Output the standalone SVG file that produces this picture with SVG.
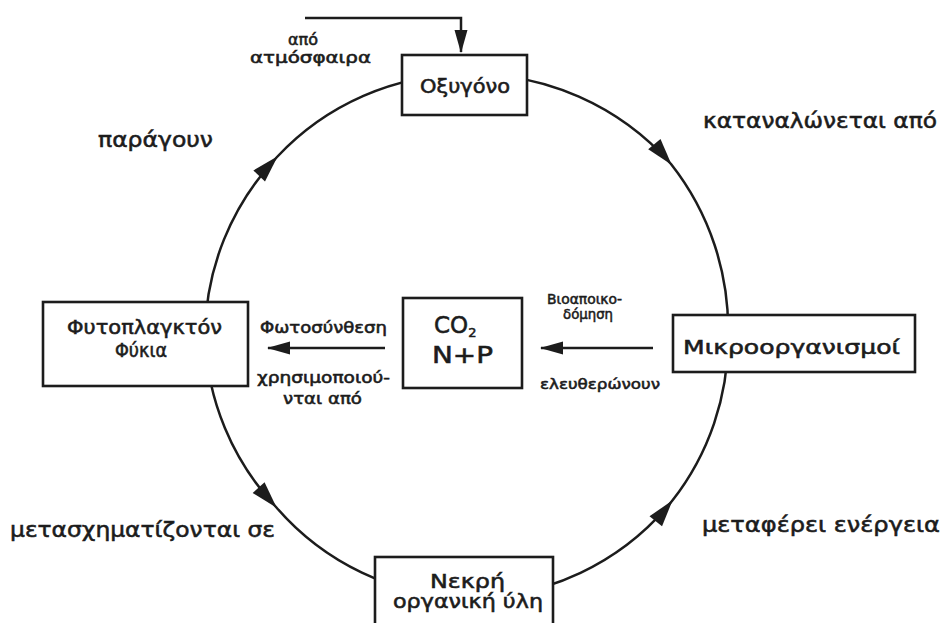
<svg xmlns="http://www.w3.org/2000/svg" width="941" height="623" viewBox="0 0 941 623">
<defs>
<style>
.ln{fill:none;stroke:#1c1c1c;stroke-width:2.5}
.box{fill:#fff;stroke:#1c1c1c;stroke-width:2.6}
text{font-family:"DejaVu Sans","Liberation Sans",sans-serif;fill:#1c1c1c;stroke:#1c1c1c;stroke-width:0.55}
.big{font-size:21px}
.nd{font-size:19px}
.sm{font-size:15px}
.xs{font-size:14px}
</style>
<marker id="ah" viewBox="-27 -9 29 18" refX="0" refY="0" markerWidth="29" markerHeight="18" markerUnits="userSpaceOnUse" orient="auto" overflow="visible">
<path d="M1,0 L-26,-8 L-26,8 Z" fill="#1c1c1c"/>
</marker>
<marker id="ah2" viewBox="-24 -8 26 16" refX="0" refY="0" markerWidth="26" markerHeight="16" markerUnits="userSpaceOnUse" orient="auto" overflow="visible">
<path d="M1,0 L-22,-6.5 L-22,6.5 Z" fill="#1c1c1c"/>
</marker>
</defs>
<rect width="941" height="623" fill="#fff"/>
<g id="connectors">
<path class="ln" marker-mid="url(#ah)" d="M205,336 A262,262 0 0 1 277,157 A262,262 0 0 1 467,74 A266,266 0 0 1 671,164 A266,266 0 0 1 728,336"/>
<path class="ln" marker-mid="url(#ah)" d="M205,336 A262,262 0 0 0 276,507 A262,262 0 0 0 467,598 A262,262 0 0 0 672,501 A262,262 0 0 0 728,336"/>
<path class="ln" marker-end="url(#ah2)" d="M305,18 H461 V52"/>
<path class="ln" marker-end="url(#ah2)" d="M385,348 H268"/>
<path class="ln" marker-end="url(#ah2)" d="M653,348 H541"/>
</g>
<g id="label-apo-atmosfaira">
<text class="sm" x="288" y="45" textLength="30" lengthAdjust="spacingAndGlyphs">από</text>
<text class="sm" x="250" y="63" textLength="121" lengthAdjust="spacingAndGlyphs">ατμόσφαιρα</text>
</g>
<g id="node-oxygono">
<rect class="box" x="402" y="55" width="125" height="60"/>
<text class="nd" x="420" y="93" textLength="90" lengthAdjust="spacingAndGlyphs">Οξυγόνο</text>
</g>
<g id="node-fytoplagkton">
<rect class="box" x="43" y="302" width="205" height="84"/>
<text class="nd" x="67" y="334" textLength="155" lengthAdjust="spacingAndGlyphs">Φυτοπλαγκτόν</text>
<text class="nd" x="115" y="357" textLength="52" lengthAdjust="spacingAndGlyphs">Φύκια</text>
</g>
<g id="node-co2">
<rect class="box" x="403" y="298" width="119" height="90"/>
<text x="434" y="333" font-size="23">CO<tspan font-size="13" dy="4">2</tspan></text>
<text x="432" y="363" font-size="23" textLength="61" lengthAdjust="spacingAndGlyphs">N+P</text>
</g>
<g id="node-mikroorganismoi">
<rect class="box" x="673" y="315" width="242" height="57"/>
<text class="nd" x="683" y="354" textLength="217" lengthAdjust="spacingAndGlyphs" font-size="20">Μικροοργανισμοί</text>
</g>
<g id="node-nekri">
<rect class="box" x="375" y="557" width="178" height="80"/>
<text class="nd" x="430" y="588" textLength="75" lengthAdjust="spacingAndGlyphs">Νεκρή</text>
<text class="nd" x="393" y="608" textLength="150" lengthAdjust="spacingAndGlyphs">οργανική ύλη</text>
</g>
<g id="edge-labels">
<text class="big" x="703" y="128" textLength="234" lengthAdjust="spacingAndGlyphs">καταναλώνεται από</text>
<text class="big" x="98" y="147" textLength="115" lengthAdjust="spacingAndGlyphs">παράγουν</text>
<text class="big" x="10" y="537" textLength="265" lengthAdjust="spacingAndGlyphs">μετασχηματίζονται σε</text>
<text class="big" x="702" y="532" textLength="238" lengthAdjust="spacingAndGlyphs">μεταφέρει ενέργεια</text>
<text class="sm" x="260" y="333" textLength="127" lengthAdjust="spacingAndGlyphs">Φωτοσύνθεση</text>
<text class="sm" x="257" y="383" textLength="133" lengthAdjust="spacingAndGlyphs">χρησιμοποιού-</text>
<text class="sm" x="283" y="404" textLength="79" lengthAdjust="spacingAndGlyphs">νται από</text>
<text class="xs" x="547" y="304" textLength="75" lengthAdjust="spacingAndGlyphs">Βιοαποικο-</text>
<text class="xs" x="563" y="319" textLength="50" lengthAdjust="spacingAndGlyphs">δόμηση</text>
<text class="xs" x="540" y="389" textLength="120" lengthAdjust="spacingAndGlyphs">ελευθερώνουν</text>
</g>
</svg>
